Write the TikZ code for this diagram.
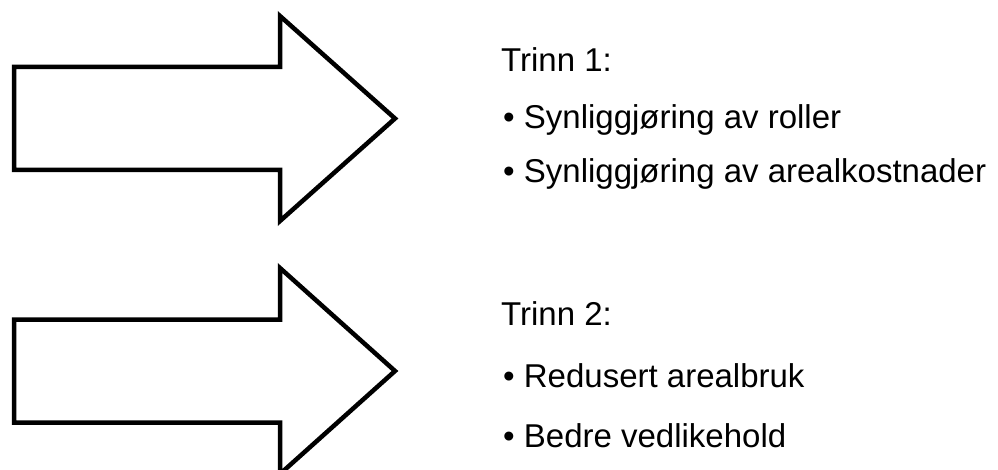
\documentclass[tikz,border=0pt]{standalone}
\usepackage{fontspec}
\setmainfont{Liberation Sans}
\begin{document}
\begin{tikzpicture}[x=1pt,y=-1pt,
  bigarrow/.style={draw=black,line width=4.5pt,miter limit=10,line join=miter,fill=white},
  lbl/.style={anchor=base west,inner sep=0pt,font=\fontsize{33}{40}\selectfont}]
\path[use as bounding box] (0,0) rectangle (998,470);
\clip (0,0) rectangle (998,470);
% arrow 1
\draw[bigarrow] (14,67) -- (280,67) -- (280,16) -- (395,118.5) -- (280,221) -- (280,170) -- (14,170) -- cycle;
% arrow 2
\draw[bigarrow] (14,319.5) -- (280,319.5) -- (280,268) -- (395,371) -- (280,474) -- (280,422.5) -- (14,422.5) -- cycle;
% texts
\node[lbl] (t1) at (501,72) {Trinn 1:};
\node[lbl] (t1a) at (503,129) {• Synliggjøring av roller};
\node[lbl] (t1b) at (503,183) {• Synliggjøring av arealkostnader};
\node[lbl] (t2) at (501,325) {Trinn 2:};
\node[lbl] (t2a) at (503,387) {• Redusert arealbruk};
\node[lbl] (t2b) at (503,447) {• Bedre vedlikehold};
\end{tikzpicture}
\end{document}
